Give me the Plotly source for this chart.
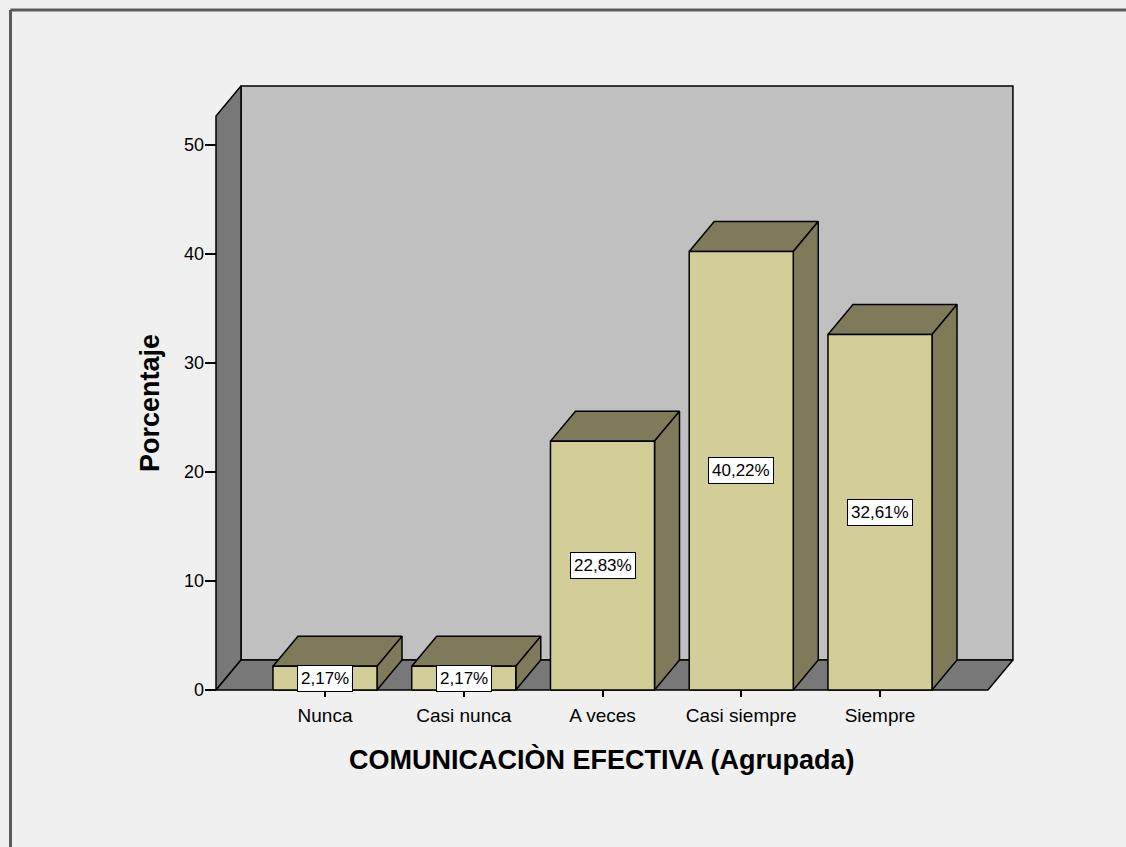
import plotly.graph_objects as go

# ---- data ----
categories = ["Nunca", "Casi nunca", "A veces", "Casi siempre", "Siempre"]
percentages = [2.17, 2.17, 22.83, 40.22, 32.61]
y_ticks = [0, 10, 20, 30, 40, 50]
x_title = "COMUNICACIÒN EFECTIVA (Agrupada)"
y_title = "Porcentaje"

# ---- 3D geometry (axis units) ----
BAR_W = 0.75
DX = 0.18
DY = 2.75
WALL_TOP = 52.66
WALL_X0 = -0.7856
WALL_X1 = 4.778

FRONT = "#D3CE97"
SHADE = "#7F7B5A"
WALL = "#C0C0C0"
DARK = "#787878"
EDGE = "#000000"
FONT = "Liberation Sans, Arial, sans-serif"

fig = go.Figure()


def poly(xs, ys, fill):
    fig.add_trace(go.Scatter(
        x=xs + [xs[0]], y=ys + [ys[0]], mode="lines", fill="toself",
        fillcolor=fill, line=dict(color=EDGE, width=1.5),
        hoverinfo="skip", showlegend=False))


# back wall
poly([WALL_X0 + DX, WALL_X1 + DX, WALL_X1 + DX, WALL_X0 + DX],
     [DY, DY, WALL_TOP + DY, WALL_TOP + DY], WALL)
# left wall
poly([WALL_X0, WALL_X0, WALL_X0 + DX, WALL_X0 + DX],
     [0, WALL_TOP, WALL_TOP + DY, DY], DARK)
# floor
poly([WALL_X0, WALL_X1, WALL_X1 + DX, WALL_X0 + DX],
     [0, 0, DY, DY], DARK)

# bars
for i, v in enumerate(percentages):
    x0 = i - BAR_W / 2
    x1 = i + BAR_W / 2
    poly([x0, x1, x1 + DX, x0 + DX], [v, v, v + DY, v + DY], SHADE)
    poly([x1, x1 + DX, x1 + DX, x1], [0, DY, v + DY, v], SHADE)
    poly([x0, x1, x1, x0], [0, 0, v, v], FRONT)

annotations = []
for i, v in enumerate(percentages):
    annotations.append(dict(
        x=i, y=v / 2, xref="x", yref="y", showarrow=False,
        text=f"{v:.2f}".replace(".", ",") + "%",
        font=dict(family=FONT, size=17, color="black"),
        bgcolor="white", bordercolor="black", borderwidth=1, borderpad=3))

annotations.append(dict(
    x=0.4871, y=-0.1021, xref="paper", yref="paper", showarrow=False,
    text="<b>" + x_title + "</b>", xanchor="center", yanchor="middle",
    font=dict(family=FONT, size=27, color="black")))
annotations.append(dict(
    x=-0.0675, y=0.4765, xref="paper", yref="paper", showarrow=False,
    text="<b>" + y_title + "</b>", textangle=-90, xanchor="center", yanchor="middle",
    font=dict(family=FONT, size=27, color="black")))

FX0 = (10.5 - 205) / 815
FY1 = (697 - 10) / 617

fig.update_layout(
    width=1126, height=847,
    margin=dict(l=205, r=106, t=80, b=150),
    paper_bgcolor="#F0F0F0", plot_bgcolor="rgba(0,0,0,0)",
    xaxis=dict(range=[-0.8649, 5.009], tickvals=list(range(len(categories))),
               ticktext=categories, ticks="inside", ticklen=7, tickwidth=1.5,
               tickcolor="black", showgrid=False, zeroline=False, showline=False,
               ticklabelstandoff=5,
               tickfont=dict(family=FONT, size=19, color="black"), fixedrange=True),
    yaxis=dict(range=[-0.642, 55.96], tickvals=y_ticks, ticks="inside", ticklen=11,
               tickwidth=1.5, tickcolor="black", showgrid=False, zeroline=False,
               showline=False, tickfont=dict(family=FONT, size=18, color="black"),
               fixedrange=True),
    annotations=annotations,
    shapes=[
        dict(type="line", xref="paper", yref="paper", x0=FX0, x1=1.3, y0=FY1, y1=FY1,
             line=dict(color="#5A5A5A", width=3), layer="below"),
        dict(type="line", xref="paper", yref="paper", x0=FX0, x1=FX0, y0=-0.4, y1=FY1,
             line=dict(color="#5A5A5A", width=3), layer="below"),
    ],
)

fig.write_html(
    "out.html",
    config={"displayModeBar": False},
    post_script="document.body.style.margin='0';document.body.style.overflow='hidden';",
)
